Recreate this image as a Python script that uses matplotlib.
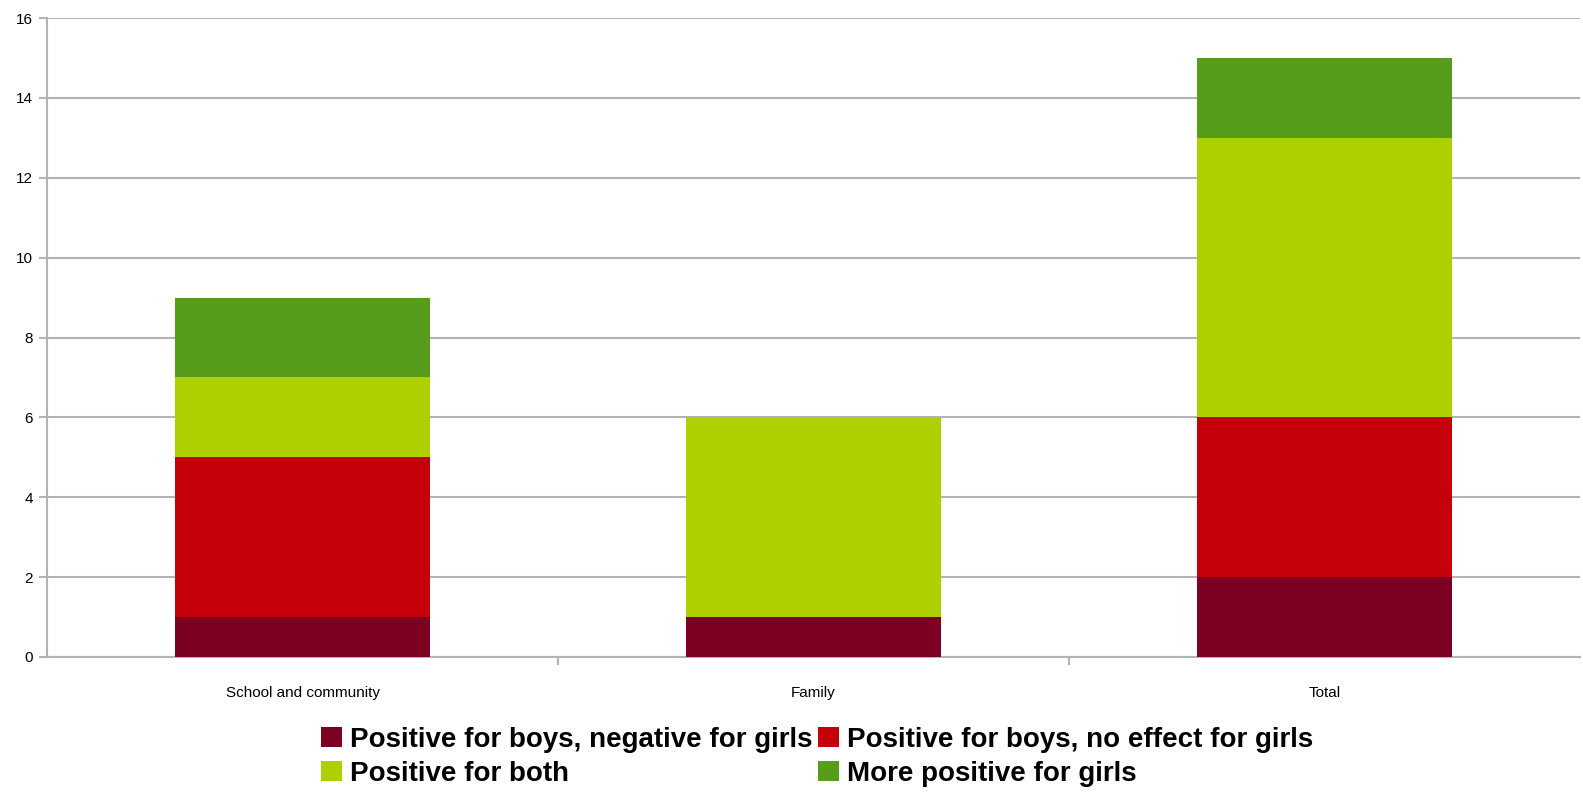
import matplotlib.pyplot as plt
import numpy as np

plt.rcParams['font.family'] = ['Liberation Sans', 'DejaVu Sans']

categories = ['School and community', 'Family', 'Total']
series_names = ['Positive for boys, negative for girls',
                'Positive for boys, no effect for girls',
                'Positive for both',
                'More positive for girls']
neg_girls = [1, 1, 2]
no_effect_girls = [4, 0, 4]
both = [2, 5, 7]
more_girls = [2, 0, 2]
colors = ['#7b0021', '#c5000b', '#aecf00', '#579d1c']

fig = plt.figure(figsize=(15.83, 7.98), dpi=100)
ax = fig.add_axes([47 / 1583, 1 - 657 / 798, 1533 / 1583, 639 / 798])

x = np.arange(len(categories))
bottom = np.zeros(len(categories))
handles = []
for name, vals, c in zip(series_names, [neg_girls, no_effect_girls, both, more_girls], colors):
    h = ax.bar(x, vals, width=0.5, bottom=bottom, color=c, label=name, zorder=3)
    handles.append(h)
    bottom += np.array(vals)

ax.set_xlim(-0.5, 2.5)
ax.set_ylim(0, 16)
ax.set_yticks(range(0, 17, 2))
ax.yaxis.grid(True, color='#b3b3b3', linewidth=1.5, zorder=0)
for s in ['top', 'right']:
    ax.spines[s].set_visible(False)
for s in ['left', 'bottom']:
    ax.spines[s].set_color('#b3b3b3')
    ax.spines[s].set_linewidth(1.5)

ax.set_xticks(x)
ax.set_xticklabels(categories, fontsize=11)
ax.tick_params(axis='x', length=0, pad=21)
ax.set_xticks([0.5, 1.5], minor=True)
ax.tick_params(axis='x', which='minor', length=6, width=1.5, color='#b3b3b3')
ax.tick_params(axis='y', length=6, width=1.5, color='#b3b3b3', labelsize=11, pad=4)

# legend fills row by row in the reference
order = [0, 2, 1, 3]
fig.legend([handles[i] for i in order], [series_names[i] for i in order],
           loc='lower left', bbox_to_anchor=(310 / 1583, 0.0), ncol=2, frameon=False,
           prop={'weight': 'bold', 'size': 20}, handlelength=0.75, handleheight=0.75,
           handletextpad=0.3, columnspacing=0.2, labelspacing=0.3, borderaxespad=0.0)

fig.savefig('out.png', dpi=100)
